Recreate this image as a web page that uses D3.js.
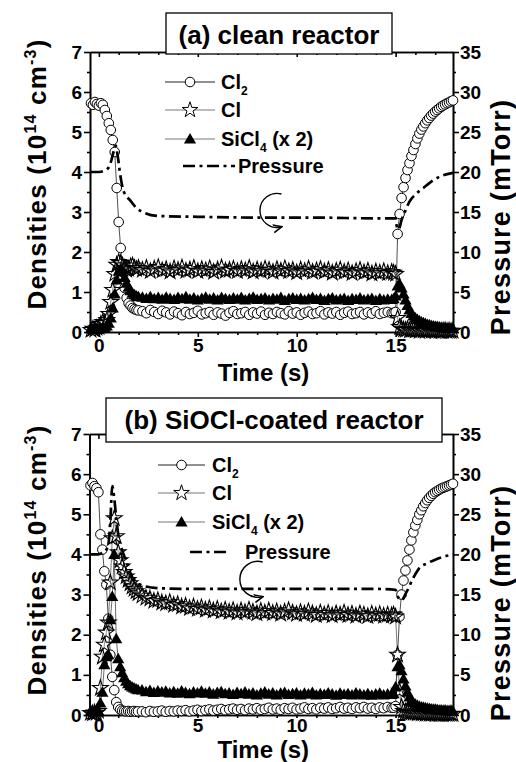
<!DOCTYPE html>
<html><head><meta charset="utf-8">
<script src="https://cdn.jsdelivr.net/npm/d3@7"></script>
<style>
body{margin:0;background:#fff}
svg{display:block}
text{font-family:"Liberation Sans",Arial,Helvetica,sans-serif;font-weight:bold;fill:#000}
</style>
</head><body>
<svg id="c" width="516" height="762"></svg>
<script>
// ---------------- DATA ----------------
const time = [-0.4,-0.3,-0.2,-0.1,0,0.1,0.2,0.3,0.4,0.5,0.6,0.7,0.8,0.9,1,1.1,1.2,1.3,1.4,1.5,1.6,1.7,1.8,1.9,2,
2.2,2.4,2.6,2.8,3,3.2,3.4,3.6,3.8,4,4.2,4.4,4.6,4.8,5,5.2,5.4,5.6,5.8,6,6.2,6.4,6.6,6.8,7,7.2,7.4,7.6,7.8,8,8.2,8.4,8.6,8.8,9,9.2,9.4,9.6,9.8,10,10.2,10.4,10.6,10.8,11,11.2,11.4,11.6,11.8,12,12.2,12.4,12.6,12.8,13,13.2,13.4,13.6,13.8,14,14.2,14.4,14.6,14.8,
14.9,15,15.1,15.2,15.3,15.4,15.5,15.6,15.7,15.8,15.9,16,16.1,16.2,16.3,16.4,16.5,16.6,16.7,16.8,16.9,17,17.1,17.2,17.3,17.4,17.5,17.6,17.7,17.8,17.9];

// (a) clean reactor, densities in 1e14 cm^-3 (SiCl4 shown x2)
const cl2A = [5.72,5.68,5.75,5.7,5.66,5.72,5.68,5.55,5.4,5.22,5.05,4.8,4.5,3.6,2.75,2.1,1.5,1.1,0.85,0.72,0.66,0.6,0.57,0.55,0.54,
0.52,0.47,0.55,0.5,0.45,0.53,0.49,0.44,0.51,0.47,0.42,0.5,0.45,0.48,0.53,0.44,
0.47,0.5,0.43,0.49,0.46,0.41,0.48,0.52,0.45,0.47,0.5,0.43,0.49,0.46,0.51,0.43,
0.48,0.45,0.5,0.47,0.44,0.52,0.46,0.49,0.43,0.48,0.51,0.45,0.47,0.52,0.44,0.49,
0.46,0.5,0.43,0.48,0.51,0.45,0.47,0.5,0.44,0.49,0.46,0.52,0.45,0.48,0.5,0.47,
0.48,0.5,2.45,2.95,3.35,3.62,3.85,4.05,4.22,4.4,4.55,4.7,4.84,4.96,5.06,5.14,5.22,5.29,5.35,5.41,5.46,5.51,5.55,5.59,5.63,5.66,5.69,5.72,5.74,5.77,5.79];
const clA = [0.05,0.08,0.06,0.1,0.12,0.2,0.25,0.22,0.3,0.45,0.75,1.05,1.45,1.68,1.75,1.72,1.66,1.6,1.55,1.58,1.64,1.66,1.6,1.57,1.6,
1.55,1.6,1.52,1.58,1.62,1.54,1.57,1.51,1.59,1.55,1.61,1.53,1.56,1.6,1.52,1.57,
1.54,1.59,1.5,1.56,1.61,1.53,1.55,1.58,1.52,1.57,1.54,1.6,1.51,1.56,1.53,1.58,
1.55,1.5,1.57,1.53,1.59,1.52,1.55,1.49,1.56,1.52,1.58,1.5,1.54,1.57,1.51,1.55,
1.48,1.53,1.56,1.5,1.54,1.47,1.52,1.55,1.49,1.53,1.46,1.51,1.48,1.52,1.47,1.5,
1.48,1.45,0.35,0.12,0.08,0.06,0.05,0.07,0.04,0.05,0.06,0.04,0.05,0.03,0.05,0.04,0.03,0.05,0.04,0.03,0.04,0.03,0.04,0.03,0.02,0.03,0.04,0.02,0.03,0.02,0.03];
const siA = [0.08,0.06,0.1,0.07,0.09,0.08,0.12,0.1,0.15,0.22,0.35,0.6,0.95,1.3,1.52,1.58,1.5,1.36,1.22,1.12,1.03,0.97,0.93,0.9,0.88,
0.87,0.84,0.88,0.83,0.86,0.82,0.87,0.84,0.81,0.86,0.83,0.88,0.82,0.85,0.8,0.84,
0.87,0.82,0.85,0.8,0.86,0.83,0.81,0.85,0.82,0.86,0.8,0.84,0.87,0.81,0.83,0.85,
0.8,0.84,0.82,0.86,0.79,0.83,0.85,0.81,0.84,0.8,0.83,0.86,0.81,0.84,0.79,0.83,
0.85,0.8,0.82,0.84,0.79,0.83,0.81,0.85,0.8,0.82,0.84,0.79,0.83,0.8,0.82,0.81,
0.83,0.9,1.15,1.2,1.1,0.95,0.8,0.66,0.55,0.46,0.4,0.35,0.31,0.28,0.25,0.23,0.21,0.19,0.18,0.16,0.15,0.14,0.13,0.12,0.11,0.1,0.1,0.09,0.09,0.08,0.08];
const pTimeA = [-0.4,0,0.3,0.5,0.6,0.75,0.85,0.95,1.1,1.25,1.6,1.9,2.3,3,5,8,11,14,15,15.05,15.15,15.3,15.5,15.7,16,16.4,16.8,17.3,17.9];
const pressA = [20,20,20.2,20.6,21.2,22.6,23.3,22,19.3,17.6,16.4,15.5,14.9,14.5,14.4,14.3,14.3,14.2,14.2,13.3,12.8,14,15.2,16.3,17.2,18,18.8,19.5,19.9];

// (b) SiOCl-coated reactor
const cl2B = [5.72,5.78,5.7,5.65,5.55,4.5,4.12,3.58,3.25,2.4,1.5,0.95,0.62,0.32,0.2,0.14,0.11,0.1,0.09,0.1,0.08,0.09,0.1,0.08,0.09,
0.09,0.07,0.1,0.08,0.09,0.11,0.08,0.1,0.09,0.11,0.1,0.12,0.09,0.11,0.13,0.1,
0.12,0.14,0.11,0.13,0.15,0.12,0.14,0.16,0.13,0.15,0.12,0.16,0.14,0.17,0.13,0.15,
0.18,0.14,0.16,0.13,0.17,0.15,0.18,0.14,0.16,0.19,0.15,0.17,0.14,0.18,0.16,0.19,
0.15,0.17,0.2,0.16,0.18,0.15,0.19,0.17,0.2,0.16,0.18,0.15,0.19,0.17,0.2,0.18,
0.18,0.22,1.5,2.45,3.0,3.35,3.6,3.85,4.12,4.35,4.55,4.72,4.86,5.0,5.1,5.2,5.28,5.35,5.41,5.46,5.51,5.55,5.58,5.61,5.64,5.66,5.68,5.7,5.72,5.74,5.76];
const clB = [0.05,0.04,0.06,0.05,0.1,0.67,1.45,1.75,2.05,2.3,3.3,4.4,4.9,4.45,4.05,3.85,3.7,3.56,3.45,3.36,3.28,3.2,3.14,3.08,3.03,
2.97,2.92,2.9,2.84,2.86,2.8,2.78,2.81,2.74,2.76,2.7,2.72,2.66,2.7,2.64,2.68,
2.62,2.66,2.6,2.64,2.58,2.62,2.57,2.61,2.55,2.6,2.56,2.62,2.57,2.53,2.59,2.55,
2.6,2.54,2.58,2.52,2.57,2.61,2.55,2.51,2.56,2.52,2.58,2.53,2.49,2.55,2.5,2.54,
2.48,2.53,2.5,2.55,2.49,2.52,2.47,2.53,2.5,2.46,2.52,2.48,2.51,2.47,2.5,2.48,
2.5,2.45,1.5,0.6,0.2,0.1,0.08,0.07,0.06,0.06,0.05,0.05,0.04,0.05,0.04,0.04,0.03,0.04,0.03,0.03,0.04,0.03,0.03,0.02,0.03,0.02,0.03,0.02,0.02,0.03,0.02];
const siB = [0.08,0.1,0.07,0.09,0.1,0.3,0.57,1.25,1.45,1.5,2.37,2.95,4.0,1.9,1.4,1.2,1.05,0.93,0.84,0.78,0.73,0.7,0.67,0.65,0.63,
0.62,0.58,0.61,0.56,0.6,0.57,0.59,0.55,0.58,0.54,0.6,0.56,0.53,0.57,0.55,0.59,
0.54,0.57,0.52,0.56,0.58,0.53,0.55,0.51,0.56,0.53,0.57,0.52,0.55,0.5,0.54,0.57,
0.52,0.55,0.5,0.54,0.56,0.51,0.53,0.55,0.5,0.54,0.52,0.56,0.5,0.53,0.51,0.55,
0.52,0.49,0.54,0.51,0.53,0.5,0.55,0.52,0.5,0.53,0.49,0.52,0.54,0.5,0.52,0.51,
0.53,0.7,1.2,1.25,1.1,0.9,0.72,0.57,0.45,0.37,0.31,0.27,0.24,0.22,0.2,0.19,0.18,0.17,0.16,0.15,0.14,0.14,0.13,0.12,0.12,0.11,0.11,0.1,0.1,0.1,0.09];
const pTimeB = [-0.4,0,0.2,0.4,0.5,0.6,0.7,0.8,0.9,1,1.2,1.4,1.7,2,2.4,3,5,8,11,14,15,15.1,15.3,15.55,15.9,16.2,16.6,17,17.4,17.9];
const pressB = [20,20,20.2,20.6,21.2,24,28.5,27,24.5,22.5,20.5,19.2,17.2,16.4,16,15.8,15.7,15.7,15.7,15.7,15.6,14.8,14.3,15.3,17.1,18.3,18.9,19.35,19.7,20];

// axes / labels
const timeDomain = [-0.45, 17.9];
const densityDomain = [0, 7];
const pressureDomain = [0, 35];
const xTicks = [0, 5, 10, 15];
const xMinor = [1,2,3,4,6,7,8,9,11,12,13,14,16,17];
const yTicks = [0,1,2,3,4,5,6,7];
const yMinor = [0.5,1.5,2.5,3.5,4.5,5.5,6.5];
const pTicks = [0,5,10,15,20,25,30,35];
const pMinor = [2.5,7.5,12.5,17.5,22.5,27.5,32.5];
const legendLabels = [["Cl","2",""],["Cl","",""],["SiCl","4"," (x 2)"],["Pressure","",""]];
const titles = ["(a) clean reactor", "(b) SiOCl-coated reactor"];
const xTitle = "Time (s)";
const pTitle = "Pressure (mTorr)";
// arrow annotation anchors (time, pressure)
const annotA = {t: 9.0, p: 15.2};
const annotB = {t: 8.05, p: 16.9};

// ---------------- DRAW ----------------
const svg = d3.select("#c");
svg.append("rect").attr("width",516).attr("height",762).attr("fill","#fff");
const defs = svg.append("defs");
defs.append("marker").attr("id","arrow").attr("viewBox","0 0 10 10").attr("refX",8).attr("refY",5)
  .attr("markerWidth",7).attr("markerHeight",7).attr("orient","auto")
  .append("path").attr("d","M0,1 L9,5 L0,9").attr("fill","none").attr("stroke","#000").attr("stroke-width",1.6);

const panels = [
  {title:titles[0], cl2:cl2A, cl:clA, si:siA, pt:pTimeA, p:pressA, annot:annotA,
   left:90, right:453, top:52, bottom:332, tk:5, tp:2,
   box:{x:166,y:13,w:226,h:41,ty:44, fs:26},
   xLabelY:381, yLabelCY:174, pLabelCY:217,
   leg:{l0:165,l1:215,tx:221,rows:[82,110,139,166],p0:183,p1:235,ptx:238}, r:17},
  {title:titles[1], cl2:cl2B, cl:clB, si:siB, pt:pTimeB, p:pressB, annot:annotB,
   left:89.5, right:453, top:434, bottom:715, tk:3, tp:0,
   box:{x:106,y:398,w:336,h:44,ty:429, fs:26},
   xLabelY:758, yLabelCY:560, pLabelCY:603,
   leg:{l0:158,l1:205,tx:212,rows:[465,493,522,552],p0:190,p1:230,ptx:245}, r:18}
];

const starPath = d3.symbol().type(d3.symbolStar).size(76)();
const triPath = d3.symbol().type(d3.symbolTriangle).size(64)();
const DASH = "12,4.5,3,4.5";

function styleAxis(sel){
  sel.attr("font-size",19).attr("font-family",'"Liberation Sans",Arial,sans-serif').attr("font-weight","bold");
  sel.selectAll("path,line").attr("stroke","#000").attr("stroke-width",1.6);
  sel.selectAll("text").attr("fill","#000");
}

panels.forEach(P => {
  const g = svg.append("g");
  const x = d3.scaleLinear().domain(timeDomain).range([P.left, P.right]);
  const y = d3.scaleLinear().domain(densityDomain).range([P.bottom, P.top]);
  const yp = d3.scaleLinear().domain(pressureDomain).range([P.bottom, P.top]);

  // axes
  g.append("g").attr("transform",`translate(0,${P.bottom})`)
    .call(d3.axisBottom(x).tickValues(xTicks).tickSize(P.tk).tickPadding(P.tp).tickSizeOuter(0)).call(styleAxis);
  g.append("g").attr("transform",`translate(0,${P.bottom})`)
    .call(d3.axisBottom(x).tickValues(xMinor).tickSize(3).tickFormat("").tickSizeOuter(0)).call(styleAxis);
  g.append("g").attr("transform",`translate(0,${P.top})`)
    .call(d3.axisTop(x).tickValues(xTicks).tickSize(-5).tickFormat("").tickSizeOuter(0)).call(styleAxis);
  g.append("g").attr("transform",`translate(0,${P.top})`)
    .call(d3.axisTop(x).tickValues(xMinor).tickSize(-3).tickFormat("").tickSizeOuter(0)).call(styleAxis);
  g.append("g").attr("transform",`translate(${P.left},0)`)
    .call(d3.axisLeft(y).tickValues(yTicks).tickSize(6).tickPadding(2).tickFormat(d3.format("d")).tickSizeOuter(0)).call(styleAxis);
  g.append("g").attr("transform",`translate(${P.left},0)`)
    .call(d3.axisLeft(y).tickValues(yMinor).tickSize(3).tickFormat("").tickSizeOuter(0)).call(styleAxis);
  g.append("g").attr("transform",`translate(${P.right},0)`)
    .call(d3.axisRight(yp).tickValues(pTicks).tickSize(6).tickPadding(1).tickSizeOuter(0)).call(styleAxis);
  g.append("g").attr("transform",`translate(${P.right},0)`)
    .call(d3.axisRight(yp).tickValues(pMinor).tickSize(3).tickFormat("").tickSizeOuter(0)).call(styleAxis);

  // connecting lines
  const mk = arr => d3.line().x((d,i)=>x(time[i])).y(d=>y(d))(arr);
  g.append("path").attr("d",mk(P.cl2)).attr("fill","none").attr("stroke","#222").attr("stroke-width",0.8);
  g.append("path").attr("d",mk(P.cl)).attr("fill","none").attr("stroke","#555").attr("stroke-width",0.8);
  g.append("path").attr("d",mk(P.si)).attr("fill","none").attr("stroke","#444").attr("stroke-width",0.8);

  // markers
  g.append("g").selectAll("circle").data(P.cl2).join("circle")
    .attr("cx",(d,i)=>x(time[i])).attr("cy",d=>y(d)).attr("r",4.8)
    .attr("fill","#fff").attr("stroke","#000").attr("stroke-width",1);
  g.append("g").selectAll("path").data(P.cl).join("path")
    .attr("d",starPath).attr("transform",(d,i)=>`translate(${x(time[i])},${y(d)})`)
    .attr("fill","#fff").attr("fill-opacity",0.15).attr("stroke","#000").attr("stroke-width",1.1);
  g.append("g").selectAll("path").data(P.si).join("path")
    .attr("d",triPath).attr("transform",(d,i)=>`translate(${x(time[i])},${y(d)+1})`)
    .attr("fill","#000");

  // pressure
  const pl = d3.line().x((d,i)=>x(P.pt[i])).y(d=>yp(d)).curve(d3.curveMonotoneX);
  g.append("path").attr("d",pl(P.p)).attr("fill","none").attr("stroke","#000")
    .attr("stroke-width",2.7).attr("stroke-dasharray",DASH);

  // curved arrow annotation
  const cx = x(P.annot.t), cy = yp(P.annot.p);
  const ap = d3.path();
  ap.arc(cx, cy, P.r, -1.3, -4.95, true);
  g.append("path").attr("d",ap.toString()).attr("fill","none").attr("stroke","#000")
    .attr("stroke-width",1.4).attr("marker-end","url(#arrow)");

  // title box
  g.append("rect").attr("x",P.box.x).attr("y",P.box.y).attr("width",P.box.w).attr("height",P.box.h)
    .attr("fill","#fff").attr("stroke","#000").attr("stroke-width",1.3);
  g.append("text").attr("x",P.box.x+P.box.w/2).attr("y",P.box.ty).attr("text-anchor","middle")
    .attr("font-size",P.box.fs).text(P.title);

  // legend
  const L = P.leg;
  const keys = ["cl2","cl","si","p"];
  keys.forEach((k,i)=>{
    const ry = L.rows[i];
    if (k === "p") {
      g.append("line").attr("x1",L.p0).attr("x2",L.p1).attr("y1",ry).attr("y2",ry)
        .attr("stroke","#000").attr("stroke-width",2.7).attr("stroke-dasharray",DASH);
    } else {
      g.append("line").attr("x1",L.l0).attr("x2",L.l1).attr("y1",ry).attr("y2",ry)
        .attr("stroke",k==="cl2"?"#222":"#777").attr("stroke-width",1);
      const mx = (L.l0+L.l1)/2;
      if (k==="cl2") g.append("circle").attr("cx",mx).attr("cy",ry).attr("r",4.8).attr("fill","#fff").attr("stroke","#000").attr("stroke-width",1);
      if (k==="cl") g.append("path").attr("d",starPath).attr("transform",`translate(${mx},${ry})`).attr("fill","#fff").attr("stroke","#000").attr("stroke-width",1);
      if (k==="si") g.append("path").attr("d",triPath).attr("transform",`translate(${mx},${ry+1})`).attr("fill","#000");
    }
    const lab = legendLabels[i];
    const t = g.append("text").attr("x",k==="p"?L.ptx:L.tx).attr("y",ry+7).attr("font-size",20);
    t.append("tspan").text(lab[0]);
    if (lab[1]) t.append("tspan").attr("font-size",12).attr("dy",6).text(lab[1]);
    if (lab[2]) t.append("tspan").attr("dy",lab[1]?-6:0).text(lab[2]);
  });

  // axis titles
  g.append("text").attr("x",(P.left+P.right)/2 - 8).attr("y",P.xLabelY).attr("text-anchor","middle")
    .attr("font-size",24).text(xTitle);
  const yl = g.append("text").attr("transform",`translate(46,${P.yLabelCY}) rotate(-90)`)
    .attr("text-anchor","middle").attr("font-size",26).attr("letter-spacing",1.2);
  yl.append("tspan").text("Densities (10");
  yl.append("tspan").attr("font-size",16).attr("dy",-10).text("14");
  yl.append("tspan").attr("dy",10).text(" cm");
  yl.append("tspan").attr("font-size",16).attr("dy",-10).text("-3");
  yl.append("tspan").attr("dy",10).text(")");
  g.append("text").attr("transform",`translate(510,${P.pLabelCY}) rotate(-90)`)
    .attr("text-anchor","middle").attr("font-size",27).attr("letter-spacing",1.2).text(pTitle);
});
</script>
</body></html>
